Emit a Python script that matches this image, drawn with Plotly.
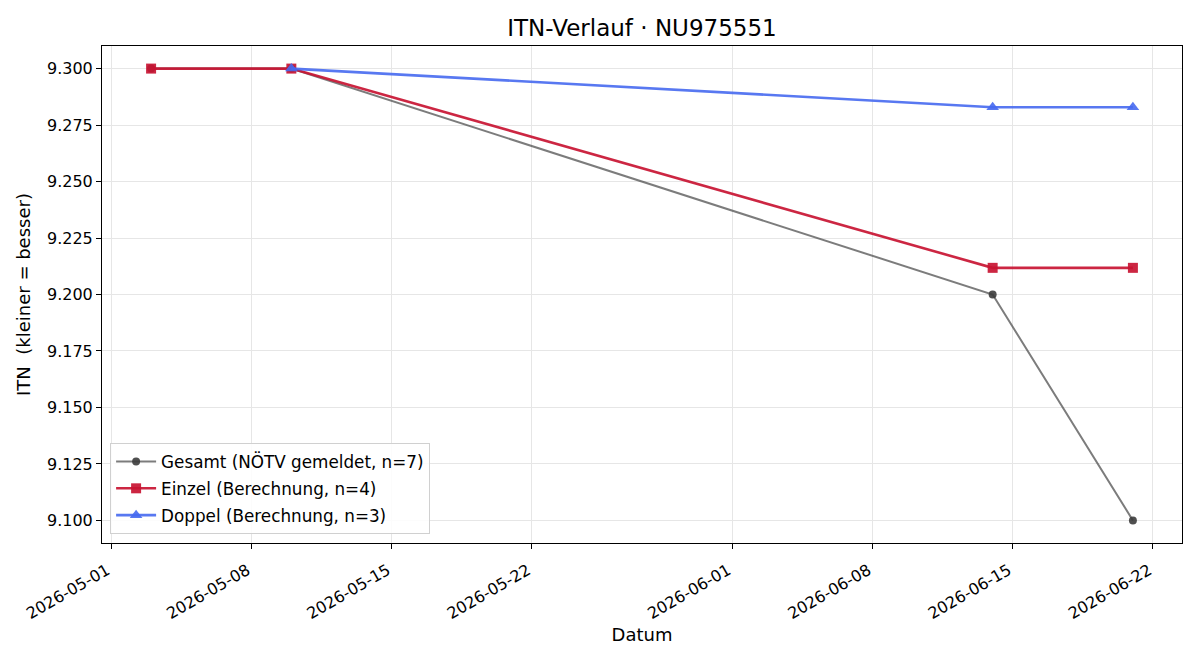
import plotly.graph_objects as go

# Data
gesamt_dates = ["2026-05-03", "2026-05-10", "2026-06-14", "2026-06-21"]
gesamt_vals = [9.300, 9.300, 9.200, 9.100]
einzel_dates = ["2026-05-03", "2026-05-10", "2026-06-14", "2026-06-21"]
einzel_vals = [9.300, 9.300, 9.2118, 9.2118]
doppel_dates = ["2026-05-10", "2026-06-14", "2026-06-21"]
doppel_vals = [9.300, 9.2829, 9.2829]

x_tick_vals = ["2026-05-01", "2026-05-08", "2026-05-15", "2026-05-22",
               "2026-06-01", "2026-06-08", "2026-06-15", "2026-06-22"]
y_tick_vals = [9.100, 9.125, 9.150, 9.175, 9.200, 9.225, 9.250, 9.275, 9.300]

FONT = "DejaVu Sans"

fig = go.Figure()
fig.add_trace(go.Scatter(
    x=gesamt_dates, y=gesamt_vals, mode="lines+markers",
    name="Gesamt (NÖTV gemeldet, n=7)", legendgroup="g",
    line=dict(color="rgba(68,68,68,0.7)", width=2),
    marker=dict(symbol="circle", size=8, color="rgba(60,60,60,0.9)"),
))
fig.add_trace(go.Scatter(
    x=einzel_dates, y=einzel_vals, mode="lines+markers",
    name="Einzel (Berechnung, n=4)", legendgroup="e",
    line=dict(color="rgba(200,20,50,0.92)", width=2.6),
    marker=dict(symbol="square", size=10, color="rgba(200,20,50,0.92)"),
))
fig.add_trace(go.Scatter(
    x=doppel_dates, y=doppel_vals, mode="lines+markers",
    name="Doppel (Berechnung, n=3)", legendgroup="d",
    line=dict(color="rgba(70,105,240,0.9)", width=2.6),
    marker=dict(symbol="triangle-up", size=11, color="rgba(70,105,240,0.9)"),
))

fig.update_layout(
    width=1200, height=660,
    margin=dict(l=102, r=18, t=46, b=117),
    paper_bgcolor="white", plot_bgcolor="white",
    font=dict(family=FONT, size=16, color="black"),
    title=dict(text="ITN-Verlauf · NU975551", x=0.5, xref="paper",
               xanchor="center", y=1 - 28 / 660, yanchor="middle",
               font=dict(size=23)),
    legend=dict(x=0.0075, y=0.018, xanchor="left", yanchor="bottom",
                bgcolor="rgba(255,255,255,0.85)", bordercolor="#d0d0d0",
                borderwidth=1, font=dict(size=16.8), tracegroupgap=2,
                itemwidth=40),
    showlegend=True,
)

fig.update_xaxes(
    type="date",
    range=["2026-04-30 13:12", "2026-06-23 10:48"],
    tickvals=x_tick_vals, ticktext=x_tick_vals,
    tickangle=-30, tickfont=dict(size=16),
    ticklabelstandoff=6, ticklabelshift=-4,
    showgrid=True, gridcolor="#e6e6e6", gridwidth=1,
    showline=True, linecolor="black", linewidth=1, mirror=True,
    ticks="outside", ticklen=5, tickcolor="black",
    title=dict(text="Datum", font=dict(size=18), standoff=6),
    zeroline=False,
)
fig.update_yaxes(
    range=[9.09, 9.31],
    tickvals=y_tick_vals, tickformat=".3f", tickfont=dict(size=16),
    showgrid=True, gridcolor="#e6e6e6", gridwidth=1,
    showline=True, linecolor="black", linewidth=1, mirror=True,
    ticks="outside", ticklen=5, tickcolor="black",
    title=dict(text="ITN  (kleiner = besser)", font=dict(size=18), standoff=11),
    zeroline=False,
)

fig.write_html("out.html")
